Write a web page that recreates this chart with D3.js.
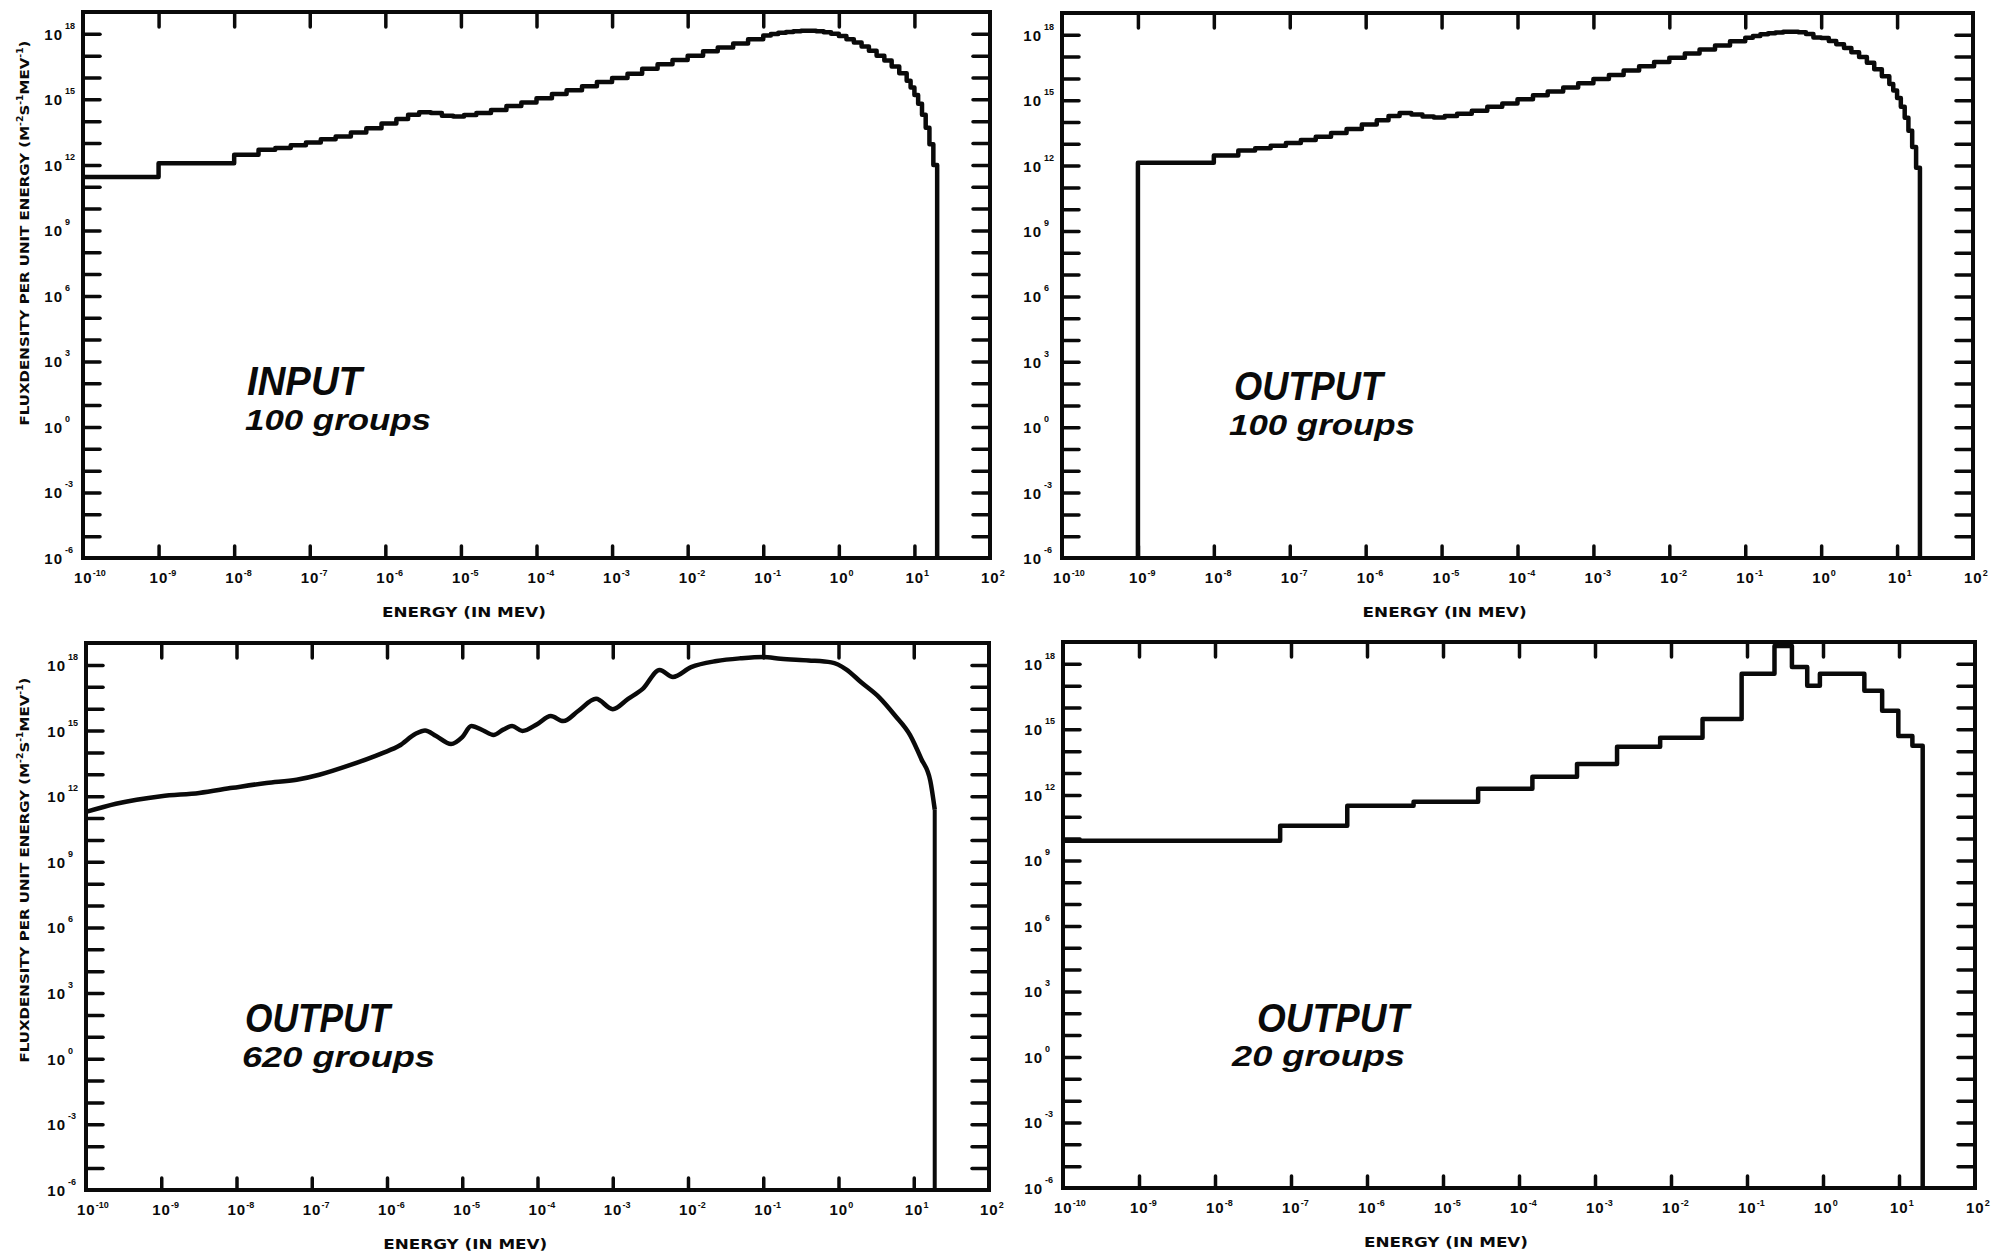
<!DOCTYPE html>
<html>
<head>
<meta charset="utf-8">
<script src="https://cdn.jsdelivr.net/npm/d3@7"></script>
<style>
  html, body { margin: 0; padding: 0; background: #fff; }
  svg { display: block; }
</style>
</head>
<body>
<svg id="fig" width="2012" height="1260"></svg>
<script>
// ---- axis decades (exponents of ten) ----
const energyDecades = [-10, -9, -8, -7, -6, -5, -4, -3, -2, -1, 0, 1, 2];
const fluxTickDecades = [-5, -4, -3, -2, -1, 0, 1, 2, 3, 4, 5, 6, 7, 8, 9, 10, 11, 12, 13, 14, 15, 16, 17, 18];
const fluxLabelDecades = [-6, -3, 0, 3, 6, 9, 12, 15, 18];

// ---- INPUT spectrum, 100-group structure (group boundaries in MeV, flux per unit energy) ----
const inputEdges = [1e-10, 1e-9, 1e-8, 2.1e-8, 3.5e-8, 5.6e-8, 8.9e-8, 1.4e-7, 2.2e-7, 3.5e-7,
  5.6e-7, 8.9e-7, 1.4e-6, 2.0e-6, 2.8e-6, 4.0e-6, 5.6e-6, 7.9e-6, 1.1e-5, 1.6e-5,
  2.5e-5, 4.0e-5, 6.3e-5, 1.0e-4, 1.6e-4, 2.5e-4, 4.0e-4, 6.3e-4, 1.0e-3, 1.6e-3,
  2.5e-3, 4.0e-3, 6.3e-3, 0.01, 0.016, 0.025, 0.04, 0.063,
  0.1, 0.126, 0.158, 0.2, 0.25, 0.316, 0.4, 0.5, 0.63, 0.79,
  1.0, 1.26, 1.58, 2.0, 2.5, 3.16, 4.0, 5.0, 6.3, 7.9,
  8.9, 10, 11.2, 12.6, 14.1, 15.8, 17.8, 20];
const inputFlux = [2.8e11, 1.2e12, 2.9e12, 4.9e12, 6.0e12, 7.9e12, 1.07e13, 1.48e13, 2.0e13, 3.0e13,
  4.8e13, 7.9e13, 1.26e14, 2.0e14, 2.6e14, 2.4e14, 1.8e14, 1.66e14, 1.9e14, 2.4e14,
  3.3e14, 5.0e14, 7.2e14, 1.12e15, 1.78e15, 2.6e15, 4.0e15, 6.3e15, 9.5e15, 1.5e16,
  2.5e16, 4.0e16, 6.3e16, 1.0e17, 1.6e17, 2.4e17, 3.6e17, 5.6e17,
  8.3e17, 9.8e17, 1.12e18, 1.23e18, 1.32e18, 1.38e18, 1.38e18, 1.32e18, 1.17e18, 1.0e18,
  7.9e17, 5.6e17, 4.0e17, 2.6e17, 1.66e17, 1.0e17, 6.0e16, 3.2e16, 1.58e16, 7.1e15,
  3.5e15, 1.58e15, 6.3e14, 2.0e14, 5.0e13, 8.9e12, 1.0e12];

// ---- OUTPUT spectrum, 100 groups ----
const out100Edges = [1e-9, 1e-8, 2.1e-8, 3.5e-8, 5.6e-8, 8.9e-8, 1.4e-7, 2.2e-7, 3.5e-7,
  5.6e-7, 8.9e-7, 1.4e-6, 2.0e-6, 2.8e-6, 4.0e-6, 5.6e-6, 7.9e-6, 1.1e-5, 1.6e-5,
  2.5e-5, 4.0e-5, 6.3e-5, 1.0e-4, 1.6e-4, 2.5e-4, 4.0e-4, 6.3e-4, 1.0e-3, 1.6e-3,
  2.5e-3, 4.0e-3, 6.3e-3, 0.01, 0.016, 0.025, 0.04, 0.063,
  0.1, 0.126, 0.158, 0.2, 0.25, 0.316, 0.4, 0.5, 0.63, 0.79,
  1.0, 1.26, 1.58, 2.0, 2.5, 3.16, 4.0, 5.0, 6.3, 7.9,
  8.9, 10, 11.2, 12.6, 14.1, 15.8, 17.8, 20];
const out100Flux = [1.35e12, 2.9e12, 4.9e12, 6.3e12, 8.1e12, 1.1e13, 1.5e13, 2.1e13, 3.1e13,
  4.8e13, 7.6e13, 1.2e14, 1.9e14, 2.6e14, 2.2e14, 1.8e14, 1.6e14, 1.9e14, 2.4e14,
  3.3e14, 5.0e14, 7.1e14, 1.1e15, 1.7e15, 2.5e15, 3.8e15, 6.0e15, 9.3e15, 1.45e16,
  2.3e16, 3.6e16, 5.6e16, 8.9e16, 1.4e17, 2.1e17, 3.2e17, 5.0e17,
  7.4e17, 8.9e17, 1.05e18, 1.17e18, 1.29e18, 1.38e18, 1.38e18, 1.32e18, 1.1e18, 7.6e17,
  7.2e17, 5.2e17, 3.7e17, 2.5e17, 1.58e17, 9.5e16, 5.2e16, 2.6e16, 1.26e16, 5.6e15,
  2.8e15, 1.26e15, 5.0e14, 1.58e14, 4.0e13, 7.1e12, 7.9e11];

// ---- OUTPUT spectrum, 620 groups (fine structure, drawn as a continuous curve) ----
const out620Energy = [1e-10, 2.5e-10, 1e-9, 3.2e-9, 8.9e-9, 2.5e-8, 6.3e-8, 1.26e-7, 3.2e-7, 8.7e-7,
  1.45e-6, 2.4e-6, 3.2e-6, 4.5e-6, 7.1e-6, 1.0e-5, 1.32e-5, 1.9e-5, 2.6e-5, 3.5e-5,
  4.6e-5, 6.3e-5, 1.0e-4, 1.5e-4, 2.2e-4, 3.5e-4, 6.0e-4, 1.0e-3, 1.6e-3, 2.5e-3,
  4.2e-3, 6.3e-3, 1.1e-2, 2.4e-2, 5.0e-2, 0.1, 0.17, 0.4, 0.8, 1.26,
  2.0, 3.5, 5.6, 8.9, 12.6, 16.6, 19.0];
const out620Flux = [1.9e11, 4.5e11, 1.0e12, 1.4e12, 2.4e12, 4.0e12, 5.6e12, 9.5e12, 2.6e13, 9.3e13,
  2.0e14, 7.1e14, 1.0e15, 5.6e14, 2.4e14, 5.0e14, 1.6e15, 1.0e15, 6.3e14, 1.1e15,
  1.6e15, 9.5e14, 2.0e15, 4.6e15, 2.7e15, 8.0e15, 2.8e16, 9.5e15, 2.8e16, 8.0e16,
  5.9e17, 2.8e17, 7.9e17, 1.5e18, 2.0e18, 2.3e18, 1.9e18, 1.6e18, 1.3e18, 6.3e17,
  1.6e17, 3.2e16, 5.0e15, 6.3e14, 5.0e13, 5.0e12, 2.5e11];

// ---- OUTPUT spectrum, 20 groups ----
const out20Edges = [1e-10, 7.2e-8, 5.5e-7, 4.1e-6, 2.9e-5, 1.5e-4, 5.8e-4, 1.95e-3, 7.2e-3, 0.026,
  0.085, 0.23, 0.39, 0.62, 0.91, 3.5, 6.0, 9.8, 15, 20.5];
const out20Flux = [7.9e9, 3.9e10, 3.2e11, 4.9e11, 1.9e12, 6.8e12, 2.6e13, 1.6e14, 4.1e14, 3.0e15,
  3.5e17, 6.6e18, 7.2e17, 9.8e16, 3.5e17, 5.8e16, 7.1e15, 5.0e14, 1.8e14];

// ---- layout of the four frames ----
const panels = [
  { x0: 83,   x1: 990,  y0: 12,  y1: 558,  kind: "step",   edges: inputEdges, flux: inputFlux,
    yTitle: true, titleCy: 233, words: ["INPUT", "100 groups"], wx: [247, 245], wy: [395, 430], ww: [115, 186] },
  { x0: 1062, x1: 1973, y0: 13,  y1: 558,  kind: "step",   edges: out100Edges, flux: out100Flux,
    yTitle: false, words: ["OUTPUT", "100 groups"], wx: [1234, 1229], wy: [400, 435], ww: [149, 186] },
  { x0: 86,   x1: 989,  y0: 643, y1: 1190, kind: "smooth", edges: out620Energy, flux: out620Flux,
    yTitle: true, titleCy: 870, words: ["OUTPUT", "620 groups"], wx: [245, 242], wy: [1032, 1067], ww: [145, 193] },
  { x0: 1063, x1: 1975, y0: 642, y1: 1188, kind: "step",   edges: out20Edges, flux: out20Flux,
    yTitle: false, words: ["OUTPUT", "20 groups"], wx: [1257, 1232], wy: [1032, 1066], ww: [152, 173] }
];

const svg = d3.select("#fig");
const INK = "#0a0a0a";
const LABEL_FONT = "Liberation Sans, Arial, sans-serif";
const energyDomain = [10 ** energyDecades[0], 10 ** energyDecades[energyDecades.length - 1]];
const fluxDomain = [1e-6, 1e19];

panels.forEach(p => {
  const g = svg.append("g");
  const x = d3.scaleLog().domain(energyDomain).range([p.x0, p.x1]);
  const y = d3.scaleLog().domain(fluxDomain).range([p.y1, p.y0]);

  const innerEnergy = energyDecades.slice(1, -1).map(e => 10 ** e);
  const fluxTicks = fluxTickDecades.map(e => 10 ** e);

  const styleAxis = sel => {
    sel.select(".domain").remove();
    sel.selectAll(".tick line").attr("stroke", INK).attr("stroke-width", 3.5).attr("stroke-linecap", "round");
  };

  g.append("g").attr("transform", `translate(0,${p.y1})`)
    .call(d3.axisBottom(x).tickValues(innerEnergy).tickSize(-12).tickSizeOuter(0).tickFormat(""))
    .call(styleAxis);
  g.append("g").attr("transform", `translate(0,${p.y0})`)
    .call(d3.axisTop(x).tickValues(innerEnergy).tickSize(-15).tickSizeOuter(0).tickFormat(""))
    .call(styleAxis);
  g.append("g").attr("transform", `translate(${p.x0},0)`)
    .call(d3.axisLeft(y).tickValues(fluxTicks).tickSize(-17).tickSizeOuter(0).tickFormat(""))
    .call(styleAxis);
  g.append("g").attr("transform", `translate(${p.x1},0)`)
    .call(d3.axisRight(y).tickValues(fluxTicks).tickSize(-17).tickSizeOuter(0).tickFormat(""))
    .call(styleAxis);

  // frame
  g.append("rect")
    .attr("x", p.x0).attr("y", p.y0)
    .attr("width", p.x1 - p.x0).attr("height", p.y1 - p.y0)
    .attr("fill", "none").attr("stroke", INK).attr("stroke-width", 4);

  // energy tick labels
  energyDecades.forEach(e => {
    const tx = x(10 ** e);
    const t = g.append("text")
      .attr("x", tx - 9).attr("y", p.y1 + 25)
      .attr("font-family", LABEL_FONT)
      .attr("font-weight", "bold").attr("font-size", 15).attr("letter-spacing", 1)
      .attr("fill", INK);
    t.append("tspan").text("10");
    t.append("tspan").attr("font-size", 9).attr("dy", -7).attr("letter-spacing", 0).text(e);
  });

  // flux tick labels
  fluxLabelDecades.forEach(e => {
    const ty = y(10 ** e);
    g.append("text")
      .attr("x", p.x0 - 20).attr("y", ty + 6)
      .attr("text-anchor", "end")
      .attr("font-family", LABEL_FONT)
      .attr("font-weight", "bold").attr("font-size", 15).attr("letter-spacing", 1)
      .attr("fill", INK)
      .text("10");
    g.append("text")
      .attr("x", p.x0 - 18).attr("y", ty - 5)
      .attr("font-family", LABEL_FONT)
      .attr("font-weight", "bold").attr("font-size", 9).attr("fill", INK)
      .text(e);
  });

  // energy axis title
  g.append("text")
    .attr("x", p.x0 + (p.x1 - p.x0) * 0.42).attr("y", p.y1 + 59)
    .attr("text-anchor", "middle")
    .attr("font-family", "DejaVu Sans, sans-serif")
    .attr("font-weight", "bold").attr("font-size", 14).attr("fill", INK)
    .attr("textLength", 164).attr("lengthAdjust", "spacingAndGlyphs")
    .text("ENERGY  (IN MEV)");

  // flux axis title
  if (p.yTitle) {
    const t = g.append("text")
      .attr("transform", `translate(29,${p.titleCy}) rotate(-90)`)
      .attr("text-anchor", "middle")
      .attr("font-family", "DejaVu Sans, sans-serif")
      .attr("font-weight", "bold").attr("font-size", 13).attr("fill", INK)
      .attr("textLength", 385).attr("lengthAdjust", "spacingAndGlyphs");
    t.append("tspan").text("FLUXDENSITY PER UNIT ENERGY  (M");
    t.append("tspan").attr("font-size", 8).attr("dy", -6).text("-2");
    t.append("tspan").attr("dy", 6).text("S");
    t.append("tspan").attr("font-size", 8).attr("dy", -6).text("-1");
    t.append("tspan").attr("dy", 6).text("MEV");
    t.append("tspan").attr("font-size", 8).attr("dy", -6).text("-1");
    t.append("tspan").attr("dy", 6).text(")");
  }

  // spectrum
  const line = d3.line().x(d => x(d[0])).y(d => y(d[1]));
  let pts = [];
  if (p.kind === "step") {
    if (p.edges[0] > energyDomain[0]) pts.push([p.edges[0], fluxDomain[0]]);
    p.flux.forEach((f, i) => { pts.push([p.edges[i], f]); pts.push([p.edges[i + 1], f]); });
    pts.push([p.edges[p.edges.length - 1], fluxDomain[0]]);
    g.append("path").attr("d", line(pts))
      .attr("fill", "none").attr("stroke", INK).attr("stroke-width", 4.5)
      .attr("stroke-linejoin", "round");
  } else {
    pts = p.edges.map((e, i) => [e, p.flux[i]]);
    g.append("path").attr("d", line.curve(d3.curveMonotoneX)(pts))
      .attr("fill", "none").attr("stroke", INK).attr("stroke-width", 4.5)
      .attr("stroke-linejoin", "round");
    const last = pts[pts.length - 1];
    g.append("path").attr("d", d3.line().x(d => x(d[0])).y(d => y(d[1]))([last, [last[0], fluxDomain[0]]]))
      .attr("fill", "none").attr("stroke", INK).attr("stroke-width", 4);
  }

  // panel annotation
  p.words.forEach((w, i) => {
    g.append("text")
      .attr("x", p.wx[i]).attr("y", p.wy[i])
      .attr("font-family", LABEL_FONT)
      .attr("font-weight", "bold").attr("font-style", "italic")
      .attr("font-size", i === 0 ? 41 : 29).attr("fill", INK)
      .attr("textLength", p.ww[i]).attr("lengthAdjust", "spacingAndGlyphs")
      .text(w);
  });
});
</script>
</body>
</html>
